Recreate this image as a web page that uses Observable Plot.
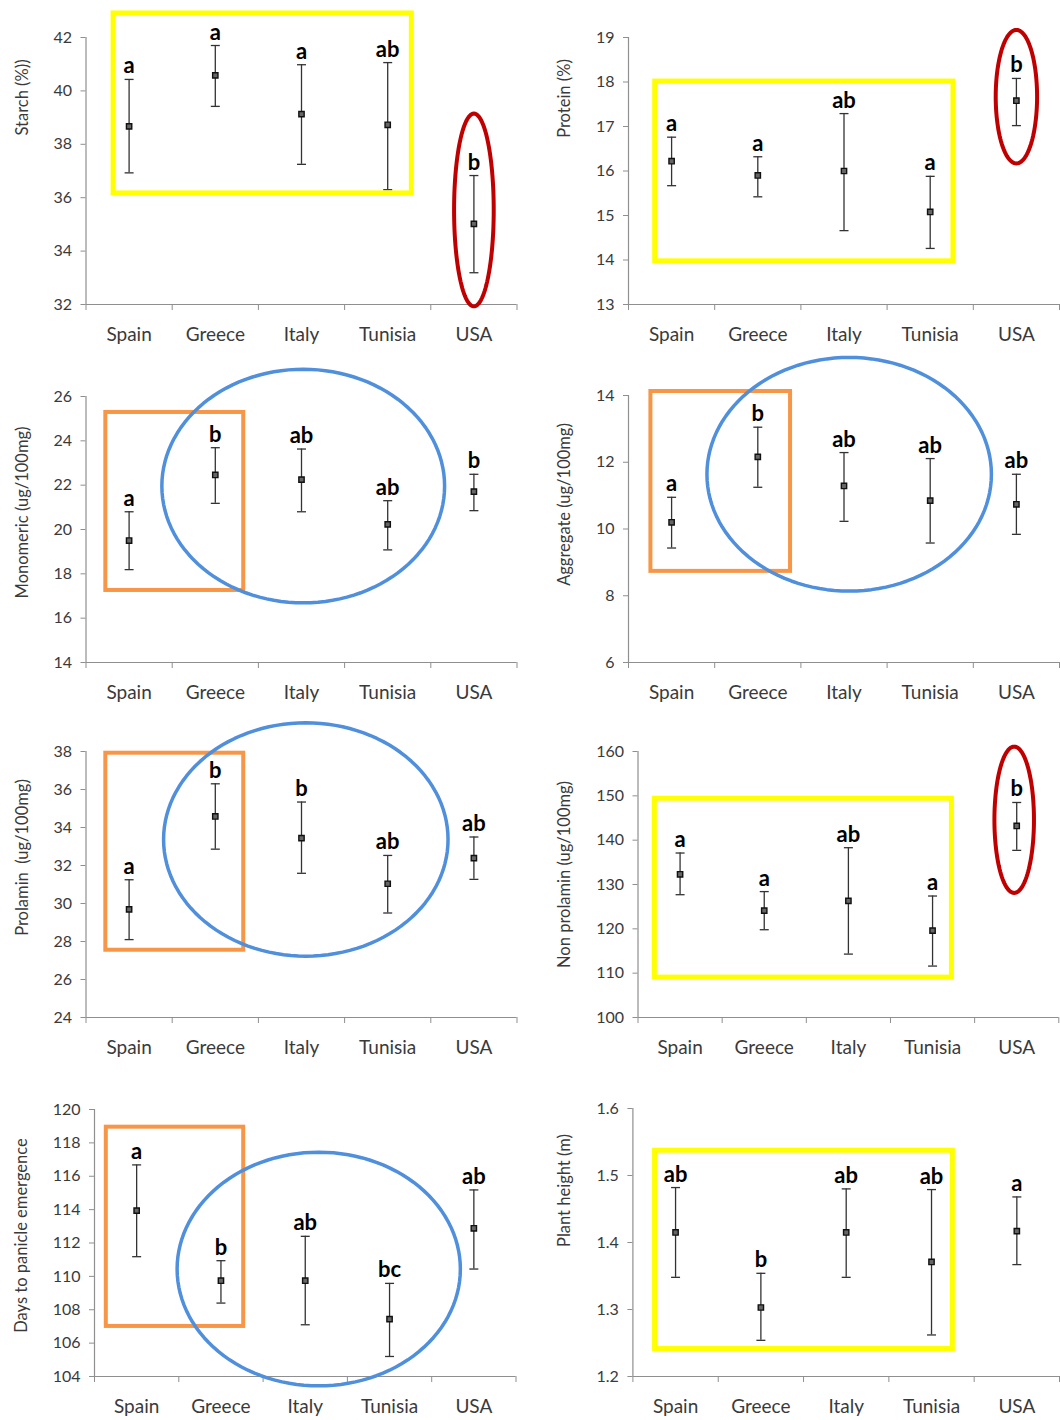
<!DOCTYPE html>
<html>
<head>
<meta charset="utf-8">
<script src="https://cdn.jsdelivr.net/npm/d3@7"></script>
<script src="https://cdn.jsdelivr.net/npm/@observablehq/plot@0.6"></script>
<style>
  html, body { margin: 0; padding: 0; background: #fff; }
  #wrap { position: relative; width: 1060px; height: 1420px; background: #fff; overflow: hidden; }
  #wrap svg { position: absolute; overflow: visible; }
  #wrap g[aria-label="ylabel"] text { letter-spacing: 1px; }
</style>
</head>
<body>
<div id="wrap"></div>
<script>
// ---------- data ----------
const countries = ["Spain", "Greece", "Italy", "Tunisia", "USA"];

const starchMean = [38.67, 40.58, 39.13, 38.73, 35.02];
const starchLow  = [36.93, 39.42, 37.25, 36.30, 33.19];
const starchHigh = [40.43, 41.70, 40.98, 41.06, 36.83];
const starchLetters = ["a", "a", "a", "ab", "b"];
const starchTicks = [32, 34, 36, 38, 40, 42];

const proteinMean = [16.22, 15.90, 16.00, 15.08, 17.58];
const proteinLow  = [15.67, 15.42, 14.66, 14.26, 17.02];
const proteinHigh = [16.76, 16.32, 17.29, 15.88, 18.08];
const proteinLetters = ["a", "a", "ab", "a", "b"];
const proteinTicks = [13, 14, 15, 16, 17, 18, 19];

const monoMean = [19.50, 22.46, 22.25, 20.23, 21.71];
const monoLow  = [18.19, 21.18, 20.80, 19.08, 20.85];
const monoHigh = [20.80, 23.69, 23.63, 21.30, 22.49];
const monoLetters = ["a", "b", "ab", "ab", "b"];
const monoTicks = [14, 16, 18, 20, 22, 24, 26];

const aggMean = [10.20, 12.16, 11.29, 10.85, 10.74];
const aggLow  = [9.43, 11.25, 10.23, 9.58, 9.84];
const aggHigh = [10.95, 13.05, 12.29, 12.11, 11.64];
const aggLetters = ["a", "b", "ab", "ab", "ab"];
const aggTicks = [6, 8, 10, 12, 14];

const prolMean = [29.69, 34.58, 33.44, 31.04, 32.39];
const prolLow  = [28.10, 32.86, 31.59, 29.50, 31.27];
const prolHigh = [31.25, 36.30, 35.34, 32.53, 33.50];
const prolLetters = ["a", "b", "b", "ab", "ab"];
const prolTicks = [24, 26, 28, 30, 32, 34, 36, 38];

const nonProlMean = [132.3, 124.1, 126.3, 119.6, 143.2];
const nonProlLow  = [127.7, 119.8, 114.3, 111.6, 137.7];
const nonProlHigh = [137.1, 128.4, 138.3, 127.4, 148.5];
const nonProlLetters = ["a", "a", "ab", "a", "b"];
const nonProlTicks = [100, 110, 120, 130, 140, 150, 160];

const daysMean = [113.94, 109.74, 109.74, 107.44, 112.88];
const daysLow  = [111.18, 108.40, 107.10, 105.20, 110.44];
const daysHigh = [116.68, 110.94, 112.40, 109.58, 115.18];
const daysLetters = ["a", "b", "ab", "bc", "ab"];
const daysTicks = [104, 106, 108, 110, 112, 114, 116, 118, 120];

const heightMean = [1.415, 1.303, 1.415, 1.371, 1.417];
const heightLow  = [1.348, 1.254, 1.348, 1.262, 1.367];
const heightHigh = [1.482, 1.354, 1.480, 1.479, 1.468];
const heightLetters = ["ab", "b", "ab", "ab", "a"];
const heightTicks = [1.2, 1.3, 1.4, 1.5, 1.6];

// annotation shapes (data units: x = category index, y = value)
const starchBox = {x1: -0.18, x2: 3.28, y1: 36.16, y2: 42.9};
const starchOval = {cx: 4, cy: 35.54, rx: 0.23, ry: 3.61};
const proteinBox = {x1: -0.19, x2: 3.27, y1: 13.97, y2: 18.01};
const proteinOval = {cx: 4, cy: 17.67, rx: 0.24, ry: 1.5};
const monoBox = {x1: -0.27, x2: 1.33, y1: 17.25, y2: 25.28};
const monoOval = {cx: 2.02, cy: 21.96, rx: 1.64, ry: 5.27};
const aggBox = {x1: -0.24, x2: 1.38, y1: 8.73, y2: 14.12};
const aggOval = {cx: 2.06, cy: 11.64, rx: 1.65, ry: 3.5};
const prolBox = {x1: -0.27, x2: 1.33, y1: 27.54, y2: 37.91};
const prolOval = {cx: 2.05, cy: 33.37, rx: 1.65, ry: 6.14};
const nonProlBox = {x1: -0.30, x2: 3.23, y1: 109, y2: 149.35};
const nonProlOval = {cx: 3.97, cy: 144.6, rx: 0.235, ry: 16.5};
const daysBox = {x1: -0.36, x2: 1.27, y1: 107, y2: 118.94};
const daysOval = {cx: 2.16, cy: 110.44, rx: 1.68, ry: 7.0};
const heightBox = {x1: -0.24, x2: 3.25, y1: 1.241, y2: 1.537};

// ---------- styles ----------
const YELLOW = "#FFFF00", RED = "#C00000", ORANGE = "#F79646", BLUE = "#4F8FDC";
const AXIS = "#8f8f8f", TXT = "#3a3a3a", FONT = "Lato, 'Open Sans', sans-serif";

const panels = [
  {title: "Starch (%))", mean: starchMean, lo: starchLow, hi: starchHigh, letters: starchLetters, ticks: starchTicks,
   box: starchBox, boxColor: YELLOW, boxW: 5, oval: starchOval, ovalColor: RED, ovalW: 4,
   left: 0, top: 0, mL: 85.5, mR: 13.5, mT: 37, mB: 51, labX: 22, labY: 97},
  {title: "Protein (%)", mean: proteinMean, lo: proteinLow, hi: proteinHigh, letters: proteinLetters, ticks: proteinTicks,
   box: proteinBox, boxColor: YELLOW, boxW: 5, oval: proteinOval, ovalColor: RED, ovalW: 4,
   left: 530, top: 0, mL: 98, mR: 1, mT: 37, mB: 51, labX: 34, labY: 98},
  {title: "Monomeric (ug/100mg)", mean: monoMean, lo: monoLow, hi: monoHigh, letters: monoLetters, ticks: monoTicks,
   box: monoBox, boxColor: ORANGE, boxW: 4, oval: monoOval, ovalColor: BLUE, ovalW: 3.5,
   left: 0, top: 355, mL: 85.5, mR: 13.5, mT: 41, mB: 48, labX: 22, labY: 157},
  {title: "Aggregate (ug/100mg)", mean: aggMean, lo: aggLow, hi: aggHigh, letters: aggLetters, ticks: aggTicks,
   box: aggBox, boxColor: ORANGE, boxW: 4, oval: aggOval, ovalColor: BLUE, ovalW: 3.5,
   left: 530, top: 355, mL: 98, mR: 1, mT: 40, mB: 48, labX: 34, labY: 149},
  {title: "Prolamin  (ug/100mg)", mean: prolMean, lo: prolLow, hi: prolHigh, letters: prolLetters, ticks: prolTicks,
   box: prolBox, boxColor: ORANGE, boxW: 4, oval: prolOval, ovalColor: BLUE, ovalW: 3.5,
   left: 0, top: 710, mL: 85.5, mR: 13.5, mT: 41, mB: 48, labX: 22, labY: 147},
  {title: "Non prolamin (ug/100mg)", mean: nonProlMean, lo: nonProlLow, hi: nonProlHigh, letters: nonProlLetters, ticks: nonProlTicks,
   box: nonProlBox, boxColor: YELLOW, boxW: 5, oval: nonProlOval, ovalColor: RED, ovalW: 4,
   left: 530, top: 710, mL: 107.5, mR: 1.7, mT: 41, mB: 48, labX: 34, labY: 164},
  {title: "Days to panicle emergence", mean: daysMean, lo: daysLow, hi: daysHigh, letters: daysLetters, ticks: daysTicks,
   box: daysBox, boxColor: ORANGE, boxW: 4, oval: daysOval, ovalColor: BLUE, ovalW: 3.5,
   left: 0, top: 1065, mL: 94, mR: 14.5, mT: 44, mB: 44, labX: 21, labY: 170},
  {title: "Plant height (m)", mean: heightMean, lo: heightLow, hi: heightHigh, letters: heightLetters, ticks: heightTicks,
   box: heightBox, boxColor: YELLOW, boxW: 5, oval: null,
   left: 530, top: 1065, mL: 102.4, mR: 1, mT: 43, mB: 44, labX: 34, labY: 125, fmt: d3.format(".1f")}
];

const capSymbol = {
  draw(ctx, size) {
    const w = Math.sqrt(size / Math.PI);
    ctx.moveTo(-w, 0);
    ctx.lineTo(w, 0);
  }
};

function ovalPoints(e) {
  return d3.range(0, 361, 3).map(a => ({
    x: e.cx + e.rx * Math.cos(a * Math.PI / 180),
    y: e.cy + e.ry * Math.sin(a * Math.PI / 180)
  }));
}

const wrap = document.getElementById("wrap");

for (const p of panels) {
  const rows = countries.map((c, i) => ({i, c, mean: p.mean[i], lo: p.lo[i], hi: p.hi[i], letter: p.letters[i]}));
  const y0 = p.ticks[0], y1 = p.ticks[p.ticks.length - 1];
  const W = 530, H = 355;
  const marks = [
    Plot.ruleX([-0.5], {stroke: AXIS, strokeWidth: 1.2}),
    Plot.ruleY([y0], {stroke: AXIS, strokeWidth: 1.2}),
    Plot.axisY({ticks: p.ticks, tickSize: 5, tickPadding: 9, tickFormat: p.fmt || (d => d), fontSize: 16,
                stroke: AXIS, fill: TXT, label: null}),
    Plot.axisX({ticks: [-0.5, 0.5, 1.5, 2.5, 3.5, 4.5], tickSize: 6, tickFormat: () => "", stroke: AXIS, label: null}),
    Plot.axisX({ticks: [0, 1, 2, 3, 4], tickSize: 0, tickPadding: 23, tickFormat: i => countries[i], fontSize: 19,
                fill: TXT, label: null}),
    Plot.text([p.title], {text: d => d, frameAnchor: "top-left", rotate: -90, dx: p.labX - p.mL, dy: p.labY - p.mT,
                fontSize: 16.5, fill: TXT, textAnchor: "middle", lineAnchor: "middle", ariaLabel: "ylabel"}),
    Plot.ruleX(rows, {x: "i", y1: "lo", y2: "hi", stroke: "#333", strokeWidth: 1.3}),
    Plot.dot(rows, {x: "i", y: "hi", symbol: capSymbol, r: 4.5, stroke: "#333", strokeWidth: 1.3}),
    Plot.dot(rows, {x: "i", y: "lo", symbol: capSymbol, r: 4.5, stroke: "#333", strokeWidth: 1.3}),
    Plot.dot(rows, {x: "i", y: "mean", symbol: "square", r: 3, stroke: "#111", strokeWidth: 1.4, fill: "#666"}),
    Plot.text(rows, {x: "i", y: "hi", text: "letter", fontWeight: "bold", fontSize: 22, lineAnchor: "bottom", dy: -6, fill: "#000"}),
    Plot.rect([p.box], {x1: "x1", x2: "x2", y1: "y1", y2: "y2", fill: "none", stroke: p.boxColor, strokeWidth: p.boxW})
  ];
  if (p.oval) {
    marks.push(Plot.line(ovalPoints(p.oval), {x: "x", y: "y", stroke: p.ovalColor, strokeWidth: p.ovalW, curve: "linear-closed"}));
  }
  const svg = Plot.plot({
    width: W, height: H,
    marginLeft: p.mL, marginRight: p.mR, marginTop: p.mT, marginBottom: p.mB,
    x: {type: "linear", domain: [-0.5, 4.5], axis: null},
    y: {type: "linear", domain: [y0, y1], axis: null},
    style: {fontFamily: FONT, background: "transparent", overflow: "visible"},
    marks
  });
  svg.style.left = p.left + "px";
  svg.style.top = p.top + "px";
  wrap.appendChild(svg);
}
</script>
</body>
</html>
